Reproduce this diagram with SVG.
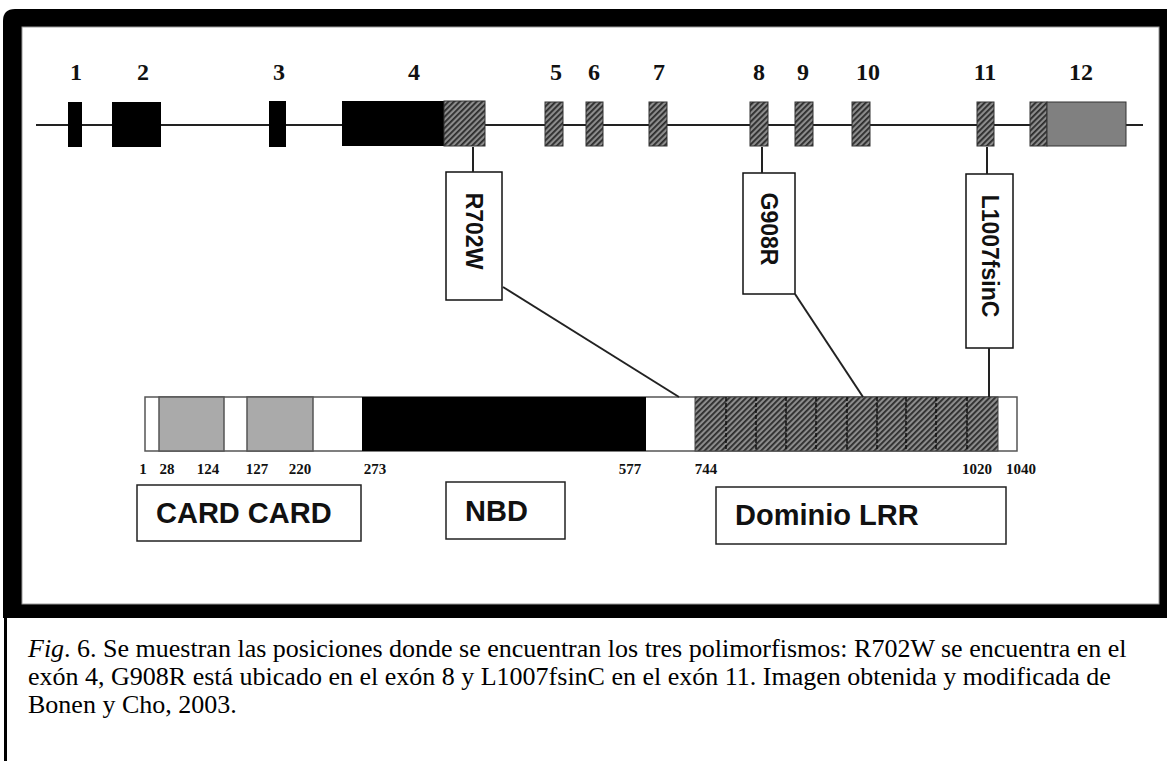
<svg xmlns="http://www.w3.org/2000/svg" width="1167" height="761" viewBox="0 0 1167 761">
<defs>
<pattern id="hatch" patternUnits="userSpaceOnUse" width="4" height="4" patternTransform="rotate(45)">
<rect width="4" height="4" fill="#8c8c8c"/><rect width="1.8" height="4" fill="#2b2b2b"/>
</pattern>
<style>
.exb{fill:#000}
.exh{fill:url(#hatch);stroke:#333;stroke-width:1}
.exlab{font-family:"Liberation Serif",serif;font-weight:bold;font-size:24px;fill:#111;text-anchor:middle}
.num{font-family:"Liberation Serif",serif;font-weight:bold;font-size:15px;fill:#111;text-anchor:middle}
.mbox{fill:#fff;stroke:#111;stroke-width:1.5}
.mtxt{font-family:"Liberation Sans",Arial,sans-serif;font-weight:bold;font-size:23px;fill:#111;text-anchor:middle;dominant-baseline:central}
.dbox{fill:#fff;stroke:#222;stroke-width:1.5}
.dtxt{font-family:"Liberation Sans",Arial,sans-serif;font-weight:bold;font-size:29px;fill:#111}
.conn{stroke:#222;stroke-width:2;fill:none}
.cap{font-family:"Liberation Serif","Times New Roman",serif;font-size:26px;fill:#000}
</style>
</defs>
<rect width="1167" height="761" fill="#fff"/>
<!-- frame -->
<path d="M3,21 Q3,9 15,9 H1167 V618 H3 Z" fill="#000"/>
<rect x="22" y="27" width="1137" height="577" fill="#fff" stroke="#999" stroke-width="1"/>
<rect x="4" y="618" width="3" height="143" fill="#000"/>

<!-- gene line -->
<g id="gene-line"><line x1="36" y1="125" x2="1143" y2="125" stroke="#222" stroke-width="2"/></g>

<g id="exon1"><rect class="exb" x="68" y="102" width="14" height="45"/><text class="exlab" x="76" y="80">1</text></g>
<g id="exon2"><rect class="exb" x="112" y="102" width="49" height="45"/><text class="exlab" x="143" y="80">2</text></g>
<g id="exon3"><rect class="exb" x="269" y="101" width="17" height="46"/><text class="exlab" x="279" y="80">3</text></g>
<g id="exon4"><rect class="exb" x="342" y="101" width="102" height="45"/><rect class="exh" x="444" y="101" width="41" height="45"/><text class="exlab" x="414" y="80">4</text></g>
<g id="exon5"><rect class="exh" x="545" y="102" width="18" height="44"/><text class="exlab" x="556" y="80">5</text></g>
<g id="exon6"><rect class="exh" x="586" y="102" width="17" height="44"/><text class="exlab" x="594" y="80">6</text></g>
<g id="exon7"><rect class="exh" x="649" y="102" width="18" height="44"/><text class="exlab" x="659" y="80">7</text></g>
<g id="exon8"><rect class="exh" x="750" y="102" width="18" height="44"/><text class="exlab" x="759" y="80">8</text></g>
<g id="exon9"><rect class="exh" x="795" y="102" width="18" height="44"/><text class="exlab" x="803" y="80">9</text></g>
<g id="exon10"><rect class="exh" x="852" y="102" width="18" height="44"/><text class="exlab" x="868" y="80">10</text></g>
<g id="exon11"><rect class="exh" x="977" y="102" width="17" height="44"/><text class="exlab" x="985" y="80">11</text></g>
<g id="exon12"><rect class="exh" x="1030" y="102" width="17" height="44"/><rect x="1047" y="102" width="79" height="44" fill="#808080" stroke="#333" stroke-width="1"/><text class="exlab" x="1081" y="80">12</text></g>

<!-- mutation boxes -->
<g id="mut-R702W"><rect class="mbox" x="446" y="172" width="56" height="128"/><text class="mtxt" transform="translate(474,231) rotate(90)">R702W</text></g>
<g id="mut-G908R"><rect class="mbox" x="743" y="173" width="52" height="121"/><text class="mtxt" transform="translate(769,229) rotate(90)">G908R</text></g>
<g id="mut-L1007fsinC"><rect class="mbox" x="966" y="174" width="47" height="174"/><text class="mtxt" transform="translate(989.5,256) rotate(90)">L1007fsinC</text></g>

<!-- protein bar -->
<g id="protein">
<rect x="145" y="397" width="872" height="54" fill="#fff" stroke="#555" stroke-width="1.5"/>
<rect x="159" y="397" width="65" height="54" fill="#aaa" stroke="#555" stroke-width="1.5"/>
<rect x="247" y="397" width="66" height="54" fill="#aaa" stroke="#555" stroke-width="1.5"/>
<rect x="362" y="397" width="284" height="54" fill="#000"/>
<rect x="695" y="397" width="303" height="54" fill="url(#hatch)" stroke="#444" stroke-width="1"/>
<g stroke="#111" stroke-width="1.5" stroke-dasharray="4 2">
<line x1="726" y1="397" x2="726" y2="451"/><line x1="756" y1="397" x2="756" y2="451"/><line x1="786" y1="397" x2="786" y2="451"/>
<line x1="816" y1="397" x2="816" y2="451"/><line x1="847" y1="397" x2="847" y2="451"/><line x1="877" y1="397" x2="877" y2="451"/>
<line x1="906" y1="397" x2="906" y2="451"/><line x1="936" y1="397" x2="936" y2="451"/><line x1="967" y1="397" x2="967" y2="451"/>
</g>
</g>
<g id="positions">
<text class="num" x="143" y="474">1</text><text class="num" x="167" y="474">28</text><text class="num" x="208" y="474">124</text>
<text class="num" x="257" y="474">127</text><text class="num" x="300" y="474">220</text><text class="num" x="375" y="474">273</text>
<text class="num" x="630" y="474">577</text><text class="num" x="706" y="474">744</text><text class="num" x="977" y="474">1020</text>
<text class="num" x="1021" y="474">1040</text>
</g>

<!-- domain labels -->
<g id="lab-CARD"><rect class="dbox" x="137" y="485" width="224" height="56"/><text class="dtxt" x="156" y="523">CARD CARD</text></g>
<g id="lab-NBD"><rect class="dbox" x="446" y="482" width="119" height="57"/><text class="dtxt" x="465" y="521">NBD</text></g>
<g id="lab-LRR"><rect class="dbox" x="716" y="487" width="290" height="57"/><text class="dtxt" x="735" y="525">Dominio LRR</text></g>

<!-- connectors -->
<g id="connectors">
<line class="conn" x1="473" y1="147" x2="473" y2="172"/>
<line class="conn" x1="762" y1="147" x2="762" y2="173"/>
<line class="conn" x1="987" y1="147" x2="987" y2="174"/>
<line class="conn" x1="503" y1="287" x2="679" y2="397"/>
<line class="conn" x1="795" y1="294" x2="863" y2="397"/>
<line class="conn" x1="989" y1="348" x2="989" y2="397"/>
</g>

<!-- caption -->
<g id="caption">
<text class="cap" x="28" y="657"><tspan font-style="italic">Fig</tspan>. 6. Se muestran las posiciones donde se encuentran los tres polimorfismos: R702W se encuentra en el</text>
<text class="cap" x="28" y="685">exón 4, G908R está ubicado en el exón 8 y L1007fsinC en el exón 11. Imagen obtenida y modificada de</text>
<text class="cap" x="28" y="713">Bonen y Cho, 2003.</text>
</g>
</svg>
